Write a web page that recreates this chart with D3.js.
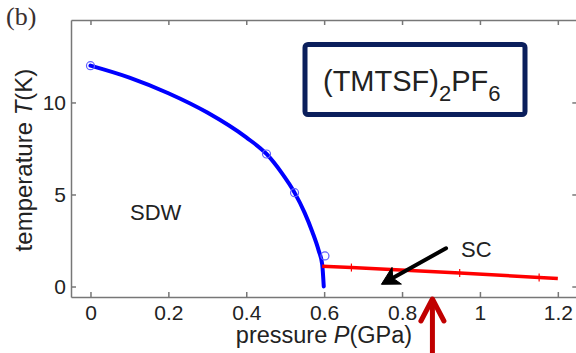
<!DOCTYPE html>
<meta charset='utf-8'>
<head>
  <title>(TMTSF)2PF6 phase diagram</title>
</head>

<style>
body {
  margin: 0;
  background: white;
  font-family: "Liberation Sans", Arial, sans-serif;
}

.axis path, .axis line {
  stroke: #777;
  stroke-width: 1.5px;
}

.axis text {
  font-size: 21px;
  fill: #222;
  font-family: "Liberation Sans", Arial, sans-serif;
}

.label {
  font-size: 24px;
  fill: #222;
}
</style>

<body>
  <svg width='576' height='353'></svg>

  <script src='https://cdn.jsdelivr.net/npm/d3@7'></script>
  <script>
// SDW transition line
var sdwP = [0, 0.1, 0.2, 0.3, 0.4, 0.452, 0.49, 0.524, 0.55, 0.57, 0.586, 0.595, 0.599];
var sdwT = [12.0, 11.35, 10.5, 9.45, 8.1, 7.2, 6.2, 5.1, 4.0, 2.95, 1.95, 1.2, 0];

// measured SDW points (open circles)
var sdwPtP = [0, 0.452, 0.524, 0.602];
var sdwPtT = [12.0, 7.2, 5.1, 1.66];

// SC line and its markers
var scP = [0.595, 0.67, 0.948, 1.152, 1.2];
var scT = [1.1, 1.03, 0.74, 0.49, 0.43];
var scMarkP = [0.67, 0.948, 1.152];
var scMarkT = [1.03, 0.74, 0.49];

var xTicks = [0, 0.2, 0.4, 0.6, 0.8, 1, 1.2];
var yTicks = [0, 5, 10];

var svg = d3.select('svg');

var x = d3.scaleLinear().domain([-0.05, 1.25]).range([71, 577.3]);
var y = d3.scaleLinear().domain([-0.57, 14.48]).range([297, 20]);

// frame
var g = svg.append('g');

g.append('g')
  .attr('class', 'axis')
  .attr('transform', 'translate(0,' + y(-0.57) + ')')
  .call(d3.axisBottom(x).tickValues(xTicks).tickFormat(d3.format('')).tickSizeInner(-5).tickSizeOuter(0).tickPadding(8));

g.append('g')
  .attr('class', 'axis')
  .attr('transform', 'translate(0,' + y(14.48) + ')')
  .call(d3.axisTop(x).tickValues(xTicks).tickFormat('').tickSizeInner(-5).tickSizeOuter(0));

g.append('g')
  .attr('class', 'axis')
  .attr('transform', 'translate(' + x(-0.05) + ',0)')
  .call(d3.axisLeft(y).tickValues(yTicks).tickSizeInner(-5).tickSizeOuter(0).tickPadding(5));

g.append('g')
  .attr('class', 'axis')
  .attr('transform', 'translate(' + x(1.25) + ',0)')
  .call(d3.axisRight(y).tickValues(yTicks).tickFormat('').tickSizeInner(-5).tickSizeOuter(0));

g.selectAll('.axis .domain').attr('stroke', '#777');

// SDW line
var line = d3.line()
  .x(function(d) { return x(d[0]); })
  .y(function(d) { return y(d[1]); });

svg.append('path')
  .datum(d3.zip(sdwP, sdwT))
  .attr('d', line.curve(d3.curveMonotoneX))
  .attr('fill', 'none')
  .attr('stroke', '#0000ff')
  .attr('stroke-width', 4)
  .attr('stroke-linecap', 'round');

svg.selectAll('circle.sdw')
  .data(d3.zip(sdwPtP, sdwPtT))
  .enter()
  .append('circle')
  .attr('class', 'sdw')
  .attr('cx', function(d) { return x(d[0]); })
  .attr('cy', function(d) { return y(d[1]); })
  .attr('r', 4)
  .attr('fill', 'none')
  .attr('stroke', '#6060ff')
  .attr('stroke-width', 1.2);

// SC line
svg.append('path')
  .datum(d3.zip(scP, scT))
  .attr('d', d3.line().x(function(d) { return x(d[0]); }).y(function(d) { return y(d[1]); }))
  .attr('fill', 'none')
  .attr('stroke', '#ff0000')
  .attr('stroke-width', 3.5);

svg.selectAll('line.scmark')
  .data(d3.zip(scMarkP, scMarkT))
  .enter()
  .append('line')
  .attr('class', 'scmark')
  .attr('x1', function(d) { return x(d[0]); })
  .attr('x2', function(d) { return x(d[0]); })
  .attr('y1', function(d) { return y(d[1]) - 4; })
  .attr('y2', function(d) { return y(d[1]) + 4; })
  .attr('stroke', '#ff0000')
  .attr('stroke-width', 1.2);

// text labels
svg.append('text')
  .attr('x', 6)
  .attr('y', 25)
  .style('font-family', '"Liberation Serif", "Times New Roman", serif')
  .style('font-size', '26px')
  .attr('fill', '#3a3030')
  .text('(b)');

svg.append('text')
  .attr('class', 'label')
  .attr('text-anchor', 'middle')
  .attr('transform', 'translate(32,160) rotate(-90)')
  .html('temperature <tspan font-style="italic">T</tspan>(K)');

svg.append('text')
  .attr('class', 'label')
  .attr('text-anchor', 'middle')
  .attr('x', 324)
  .attr('y', 343)
  .style('font-size', '23.5px')
  .html('pressure <tspan font-style="italic">P</tspan>(GPa)');

svg.append('text')
  .attr('x', 130)
  .attr('y', 220)
  .style('font-size', '22px')
  .attr('fill', '#222')
  .text('SDW');

svg.append('text')
  .attr('x', 461)
  .attr('y', 257)
  .style('font-size', '22px')
  .attr('fill', '#222')
  .text('SC');

// compound box
svg.append('rect')
  .attr('x', 305)
  .attr('y', 44.5)
  .attr('width', 220)
  .attr('height', 70)
  .attr('rx', 3)
  .attr('fill', 'white')
  .attr('stroke', '#0b1f5c')
  .attr('stroke-width', 5);

var formula = svg.append('text')
  .attr('x', 323)
  .attr('y', 91)
  .style('font-size', '29px')
  .attr('fill', '#222');
formula.append('tspan').text('(TMTSF)');
formula.append('tspan').attr('dy', 10).style('font-size', '22px').text('2');
formula.append('tspan').attr('dy', -10).text('PF');
formula.append('tspan').attr('dy', 10).style('font-size', '22px').text('6');

// black arrow to SC region
var a0 = [0.913, 2.08], a1 = [0.747, 0.12];
svg.append('line')
  .attr('x1', x(a0[0])).attr('y1', y(a0[1]))
  .attr('x2', x(a1[0]) + 10).attr('y2', y(a1[1]) - 5.5)
  .attr('stroke', 'black')
  .attr('stroke-width', 4)
  .attr('stroke-linecap', 'round');

var ang = Math.atan2(y(a1[1]) - y(a0[1]), x(a1[0]) - x(a0[0]));
var tip = [x(a1[0]), y(a1[1])];
function headPt(len, off) {
  return [tip[0] - len * Math.cos(ang + off), tip[1] - len * Math.sin(ang + off)];
}
svg.append('path')
  .attr('d', 'M' + [headPt(20, 0.5), tip, headPt(20, -0.5), headPt(13, 0)].join('L') + 'Z')
  .attr('fill', 'black')
  .attr('stroke', 'black')
  .attr('stroke-width', 1)
  .attr('stroke-linejoin', 'round');

// red arrow under the axis
var rx = x(0.878);
svg.append('line')
  .attr('x1', rx).attr('x2', rx)
  .attr('y1', 353).attr('y2', 301)
  .attr('stroke', '#c00000')
  .attr('stroke-width', 5);

svg.append('path')
  .attr('d', 'M' + [[rx - 11.5, 321], [rx, 299], [rx + 11.5, 321]].join('L'))
  .attr('fill', 'none')
  .attr('stroke', '#c00000')
  .attr('stroke-width', 5)
  .attr('stroke-linecap', 'round')
  .attr('stroke-linejoin', 'round');
  </script>
</body>
</html>
